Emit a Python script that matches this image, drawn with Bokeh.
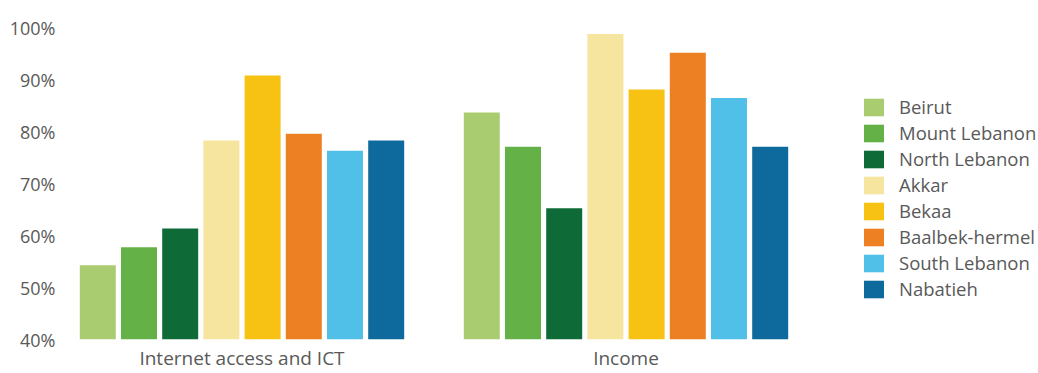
from bokeh.plotting import figure
from bokeh.models import (ColumnDataSource, Range1d, FixedTicker, PrintfTickFormatter,
                          Legend, LegendItem)
from bokeh.transform import dodge
from bokeh.embed import file_html
from bokeh.resources import INLINE

# ---- data ----
groups = ["Internet access and ICT", "Income"]
regions = ["Beirut", "Mount Lebanon", "North Lebanon", "Akkar", "Bekaa",
           "Baalbek-hermel", "South Lebanon", "Nabatieh"]
internet_ict = [54.3, 57.8, 61.4, 78.4, 90.9, 79.7, 76.4, 78.4]
income = [83.8, 77.2, 65.3, 98.9, 88.2, 95.3, 86.6, 77.2]
y_ticks = [40, 50, 60, 70, 80, 90, 100]
colors = ["#AACC71", "#64B247", "#0E6B37", "#F5E59E", "#F8C215",
          "#EC8023", "#50C0E8", "#0E6A9C"]

TEXT = "#595959"
FONT = "Open Sans"
FS_X = "19px"
FS_LEG = "18.5px"
FS_Y = "18px"

data = {"gx": list(range(len(groups)))}
for i, r in enumerate(regions):
    data[r] = [internet_ict[i], income[i]]
source = ColumnDataSource(data)

PX_PER_UNIT = 384.0
x_start = -179.5 / PX_PER_UNIT
x_end = x_start + 976 / PX_PER_UNIT

p = figure(width=1038, height=373, output_backend="svg", toolbar_location=None,
           x_range=Range1d(x_start, x_end), y_range=Range1d(40, 40 + 340 / 5.2),
           min_border_left=62, min_border_right=0, min_border_top=0, min_border_bottom=0)

p.outline_line_color = None
p.xgrid.visible = False
p.ygrid.visible = False
p.background_fill_color = "white"
p.border_fill_color = "white"

pitch = 41.2 / PX_PER_UNIT
bw = 36 / PX_PER_UNIT
items = []
for i, r in enumerate(regions):
    rend = p.vbar(x=dodge("gx", (i - 3.5) * pitch), top=r, bottom=y_ticks[0], width=bw,
                  source=source, fill_color=colors[i], line_color=None)
    items.append(LegendItem(label=r, renderers=[rend]))

legend = Legend(items=items, location=(799, 38), padding=0, margin=0,
                border_line_color=None, background_fill_alpha=0,
                glyph_width=25, glyph_height=22, label_height=22, spacing=1,
                label_standoff=13, label_text_font=FONT, label_text_font_size=FS_LEG,
                label_text_color=TEXT)
p.add_layout(legend, "center")

xa = p.xaxis[0]
xa.ticker = FixedTicker(ticks=list(range(len(groups))))
xa.major_label_overrides = {i: g for i, g in enumerate(groups)}
xa.axis_line_color = None
xa.major_tick_line_color = None
xa.minor_tick_line_color = None
xa.major_tick_out = 0
xa.major_tick_in = 0
xa.major_label_text_font = FONT
xa.major_label_text_font_size = FS_X
xa.major_label_text_color = TEXT
xa.major_label_standoff = 5

ya = p.yaxis[0]
ya.ticker = FixedTicker(ticks=y_ticks)
ya.formatter = PrintfTickFormatter(format="%d%%")
ya.axis_line_color = None
ya.major_tick_line_color = None
ya.minor_tick_line_color = None
ya.major_tick_out = 0
ya.major_tick_in = 0
ya.major_label_text_font = FONT
ya.major_label_text_font_size = FS_Y
ya.major_label_text_color = TEXT
ya.major_label_standoff = 7

open("out.html", "w").write(file_html(p, INLINE))
